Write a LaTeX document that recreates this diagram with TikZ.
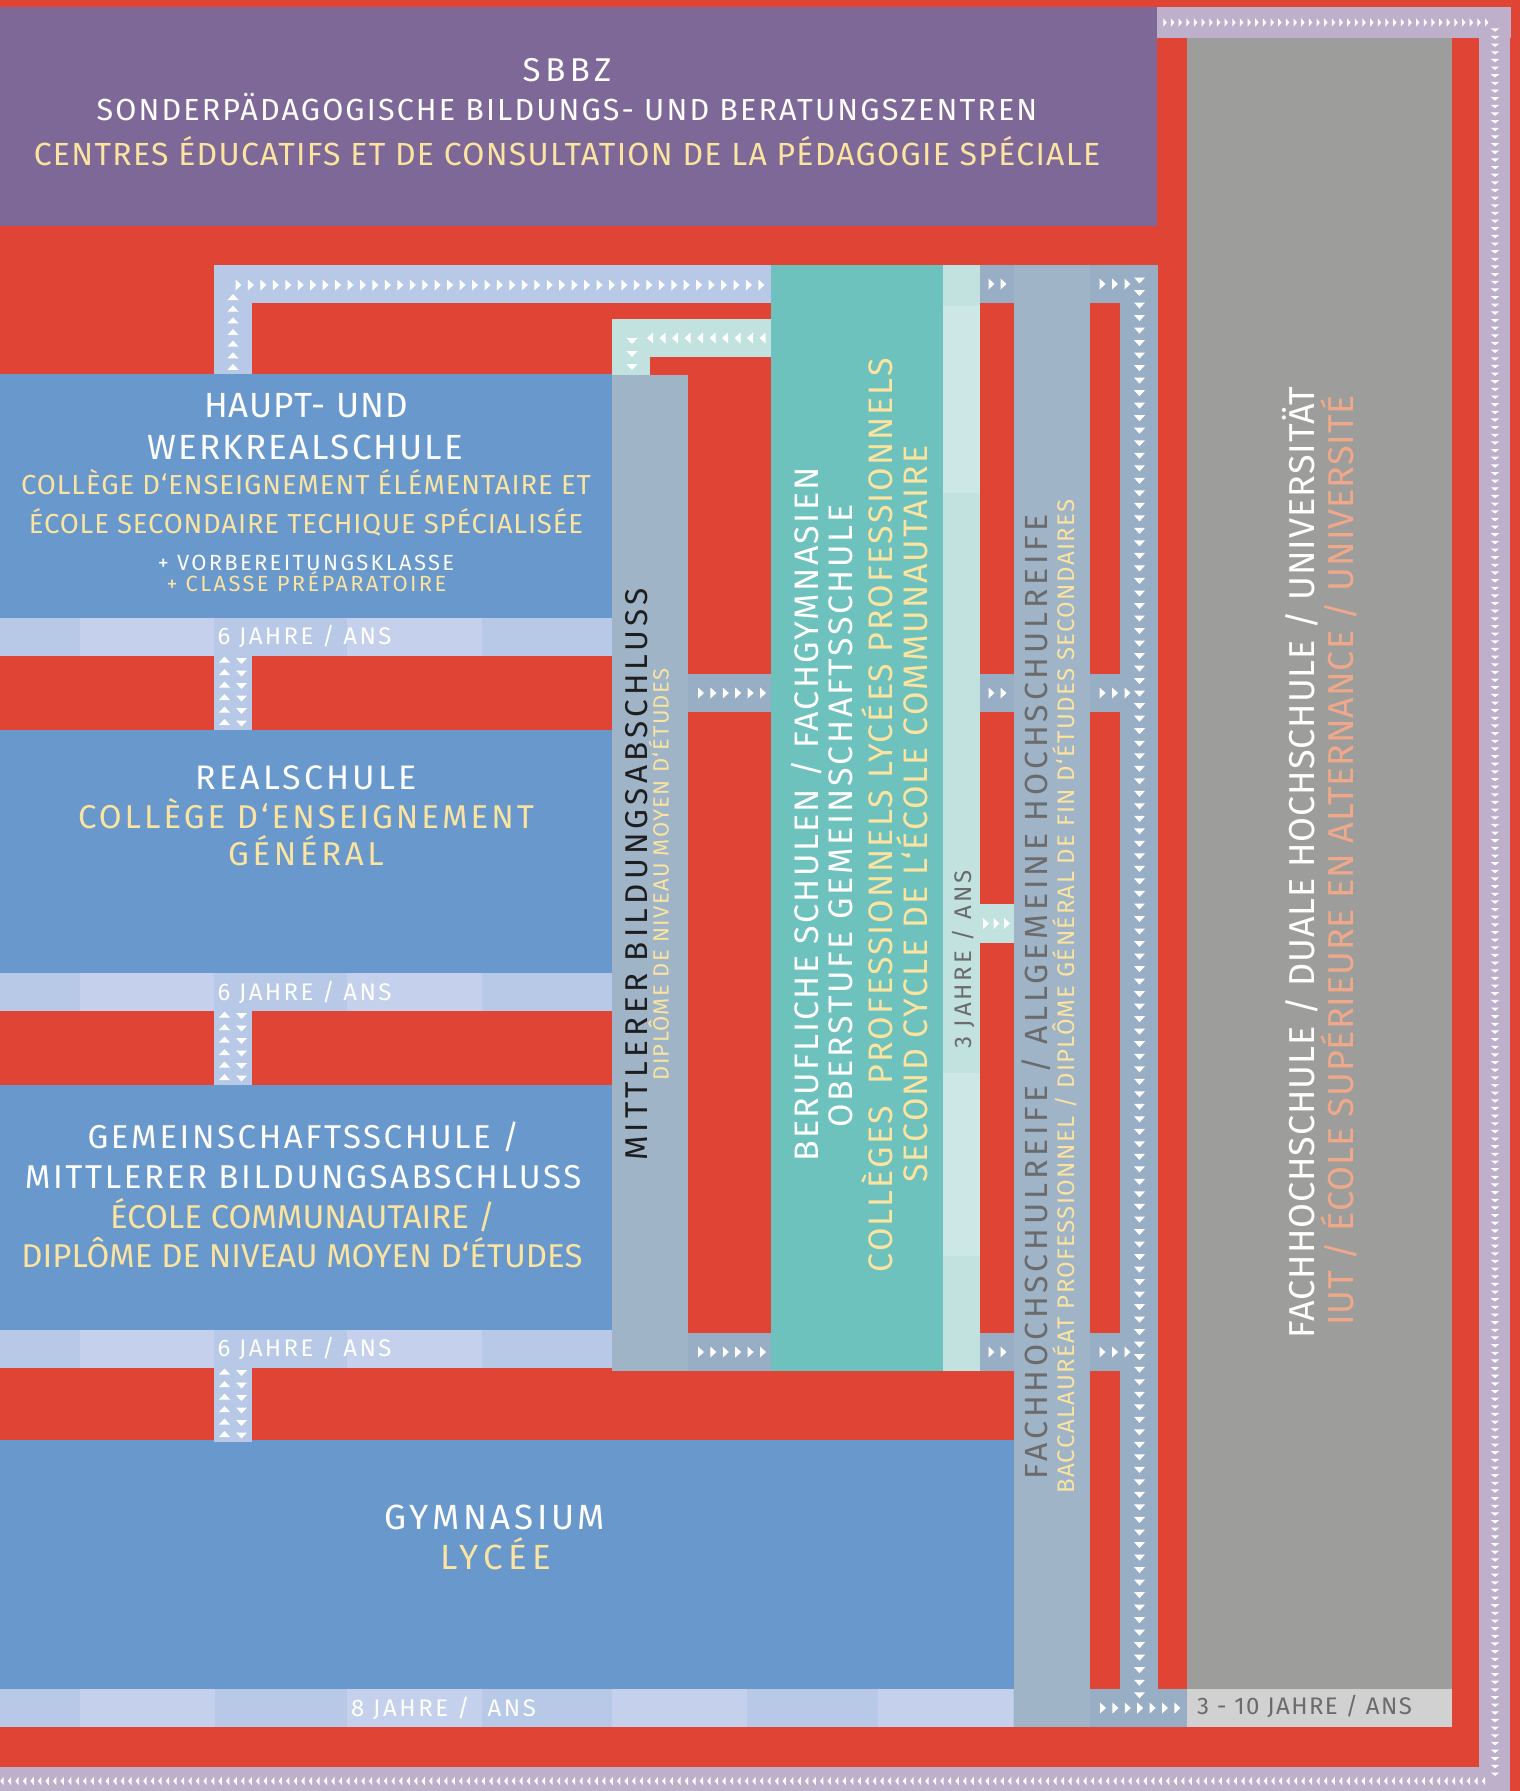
\documentclass[tikz,border=0pt]{standalone}
\usepackage{fontspec}
\setmainfont{Fira Sans}
\definecolor{bgred}{HTML}{E04434}
\definecolor{sbbzpurple}{HTML}{7E6898}
\definecolor{lilac}{HTML}{BEB0CB}
\definecolor{schoolblue}{HTML}{6898CC}
\definecolor{pathblue}{HTML}{B8C9E8}
\definecolor{paleblue}{HTML}{C5D1EC}
\definecolor{colgray}{HTML}{A0B4C8}
\definecolor{linkgray}{HTML}{98AEC5}
\definecolor{berufteal}{HTML}{6EC2BE}
\definecolor{paleteal}{HTML}{C2E2DF}
\definecolor{paletealb}{HTML}{CCE7E6}
\definecolor{unigray}{HTML}{9D9D9B}
\definecolor{yearsgray}{HTML}{D1D1D1}
\definecolor{frtext}{HTML}{FBE3A0}
\definecolor{salmontext}{HTML}{F0A88A}
\definecolor{graytext}{HTML}{6B6B6B}
\definecolor{darktext}{HTML}{1E1E1E}
\newcommand{\fs}[2]{\fontsize{#1}{#1}\selectfont\addfontfeatures{LetterSpace=#2}}
\newcommand{\arR}[2]{\fill[white] (#1-3,#2-5.5) -- (#1+3,#2) -- (#1-3,#2+5.5) -- cycle;}
\newcommand{\arL}[2]{\fill[white] (#1+3,#2-5.5) -- (#1-3,#2) -- (#1+3,#2+5.5) -- cycle;}
\newcommand{\arU}[2]{\fill[white] (#1-5.5,#2+3) -- (#1,#2-3) -- (#1+5.5,#2+3) -- cycle;}
\newcommand{\arD}[2]{\fill[white] (#1-5.5,#2-3) -- (#1,#2+3) -- (#1+5.5,#2-3) -- cycle;}
\newcommand{\sarR}[2]{\fill[white] (#1-1.7,#2-4.2) -- (#1+1.7,#2) -- (#1-1.7,#2+4.2) -- cycle;}
\newcommand{\sarL}[2]{\fill[white] (#1+1.7,#2-4.2) -- (#1-1.7,#2) -- (#1+1.7,#2+4.2) -- cycle;}
\newcommand{\sarD}[2]{\fill[white] (#1-4.2,#2-1.7) -- (#1,#2+1.7) -- (#1+4.2,#2-1.7) -- cycle;}
\begin{document}
\begin{tikzpicture}[x=1pt,y=-1pt,
  de/.style={text=white,anchor=base,inner sep=0pt},
  fr/.style={text=frtext,anchor=base,inner sep=0pt},
  gr/.style={text=graytext,anchor=base,inner sep=0pt},
  up/.style={rotate=90}]
\fill[bgred] (0,0) rectangle (1520,1791);
\useasboundingbox (0,0) rectangle (1520,1791);
\fill[sbbzpurple] (0,6.5) rectangle (1157,225.5);
\fill[lilac] (1157,6.5) rectangle (1511,37.5);
\fill[lilac] (1479,6.5) rectangle (1510,1791);
\fill[lilac] (0,1767) rectangle (1510,1791);
\fill[unigray] (1187,37.5) rectangle (1452,1689);
\fill[yearsgray] (1187,1689) rectangle (1452,1727);
\fill[pathblue] (214,265) rectangle (771,303);
\fill[pathblue] (214,265) rectangle (252,374);
\fill[paleteal] (612,319) rectangle (771,357);
\fill[paleteal] (612,319) rectangle (649.5,375);
\fill[schoolblue] (0,374) rectangle (612,618);
\fill[schoolblue] (0,730) rectangle (612,973);
\fill[schoolblue] (0,1085) rectangle (612,1330);
\fill[schoolblue] (0,1440) rectangle (1014,1689);
\foreach \y in {618,973,1330} {
  \fill[pathblue] (0,\y) rectangle (612,\y+38);
  \fill[paleblue] (80,\y) rectangle (214,\y+38);
  \fill[paleblue] (347,\y) rectangle (482,\y+38);
  \fill[pathblue] (214,\y+38) rectangle (252,\y+112);
}
\fill[pathblue] (0,1689) rectangle (1014,1727);
\foreach \x in {80,347,612,878} \fill[paleblue] (\x,1689) rectangle (\x+134.5,1727);
\fill[colgray] (612,375) rectangle (688,1371);
\fill[linkgray] (688,674) rectangle (771,712);
\fill[linkgray] (688,1333) rectangle (771,1371);
\fill[berufteal] (771,265) rectangle (942.5,1371);
\fill[paleteal] (942.5,265) rectangle (980,1371);
\fill[paletealb] (942.5,306) rectangle (980,493);
\fill[paletealb] (942.5,1073) rectangle (980,1256);
\fill[linkgray] (980,265) rectangle (1014,303);
\fill[linkgray] (980,674) rectangle (1014,712);
\fill[paleteal] (980,904) rectangle (1014,943);
\fill[linkgray] (980,1333) rectangle (1014,1371);
\fill[colgray] (1014,265) rectangle (1089.5,1727);
\fill[linkgray] (1089.5,265) rectangle (1120,303);
\fill[linkgray] (1089.5,674) rectangle (1120,712);
\fill[linkgray] (1089.5,1333) rectangle (1120,1371);
\fill[linkgray] (1120,265) rectangle (1158,1727);
\fill[linkgray] (1089.5,1689) rectangle (1187,1727);
\foreach \i in {0,...,42} {\arR{238.5+12.45*\i}{285}}
\foreach \i in {0,...,6} {\arU{233}{297+11.65*\i}}
\foreach \i in {0,...,9} {\arL{650+12.5*\i}{338}}
\foreach \i in {0,1,2} {\arD{632}{341+13*\i}}
\foreach \y in {656,1011,1368} \foreach \i in {0,...,5} {\arU{224.5}{\y+3.5+12.5*\i} \arD{241.5}{\y+5+12.5*\i}}
\foreach \y in {693,1352} \foreach \i in {0,...,5} {\arR{701+12.4*\i}{\y}}
\foreach \y in {284,693,1352} {\arR{991.5}{\y} \arR{1003.5}{\y}}
\foreach \x in {986,996.5,1007} {\arR{\x}{923.5}}
\foreach \y in {284,693,1352} {\arR{1102.5}{\y} \arR{1115}{\y} \arR{1127.5}{\y}}
\foreach \i in {0,...,113} {\arD{1139.5}{280.5+12.52*\i}}
\foreach \i in {0,...,6} {\arR{1103+12.4*\i}{1708}}
\foreach \i in {0,...,42} {\sarR{1165+7.66*\i}{22.5}}
\foreach \i in {0,...,228} {\sarD{1495}{30+7.65*\i}}
\foreach \i in {0,...,197} {\sarL{2+7.52*\i}{1781}}
\node[de,font={\fs{33}{14}}] (sbbz) at (567,81.5) {SBBZ};
\node[de,font={\fs{30.5}{7}}] (sbbzde) at (567,120) {SONDERPÄDAGOGISCHE BILDUNGS- UND BERATUNGSZENTREN};
\node[fr,font={\fs{32}{4}}] (sbbzfr) at (567,165.5) {CENTRES ÉDUCATIFS ET DE CONSULTATION DE LA PÉDAGOGIE SPÉCIALE};
\node[de,font={\fs{35}{3}}] (hauptde) at (306,417.7) {HAUPT- UND};
\node[de,font={\fs{35}{6}}] (werkde) at (305.5,459) {WERKREALSCHULE};
\node[fr,font={\fs{27.5}{3.3}}] (hauptfr) at (306,494.5) {COLLÈGE D‘ENSEIGNEMENT ÉLÉMENTAIRE ET};
\node[fr,font={\fs{27.5}{3}}] (werkfr) at (306,533) {ÉCOLE SECONDAIRE TECHIQUE SPÉCIALISÉE};
\node[de,font={\fs{22}{10.3}}] (vorbde) at (306,570.5) {+ VORBEREITUNGSKLASSE};
\node[fr,font={\fs{22}{10.5}}] (vorbfr) at (306.5,591.5) {+ CLASSE PRÉPARATOIRE};
\node[de,font={\fs{24}{10}}] (hauptjahre) at (304.5,644) {6 JAHRE / ANS};
\node[de,font={\fs{34}{9}}] (realde) at (306,789.5) {REALSCHULE};
\node[fr,font={\fs{33}{9}}] (realfr) at (306,828) {COLLÈGE D‘ENSEIGNEMENT};
\node[fr,font={\fs{33}{11}}] (realfrb) at (306,865.5) {GÉNÉRAL};
\node[de,font={\fs{24}{10}}] (realjahre) at (304.5,1000) {6 JAHRE / ANS};
\node[de,font={\fs{33}{7.8}}] (gemde) at (303.5,1148.5) {GEMEINSCHAFTSSCHULE /};
\node[de,font={\fs{33}{8}}] (gemdeb) at (303,1188.5) {MITTLERER BILDUNGSABSCHLUSS};
\node[fr,font={\fs{33}{0}}] (gemfr) at (302.5,1228.5) {ÉCOLE COMMUNAUTAIRE /};
\node[fr,font={\fs{33}{0}}] (gemfrb) at (302,1267.5) {DIPLÔME DE NIVEAU MOYEN D‘ÉTUDES};
\node[de,font={\fs{24}{10}}] (gemjahre) at (304.5,1356) {6 JAHRE / ANS};
\node[de,font={\fs{35}{10.5}}] (gymde) at (495,1529) {GYMNASIUM};
\node[fr,font={\fs{35}{15}}] (gymfr) at (495.5,1569) {LYCÉE};
\node[de,font={\fs{24}{10.7}}] (gymjahre) at (443.5,1716) {8 JAHRE /\ \ ANS};
\node[gr,font={\fs{24}{6}}] (unijahre) at (1304.5,1714.5) {3 - 10 JAHRE / ANS};
\node[anchor=base,inner sep=0pt,text=darktext,up,font={\fs{31.5}{13.3}}] (mbade) at (647,874.5) {MITTLERER BILDUNGSABSCHLUSS};
\node[fr,up,font={\fs{22}{6.4}}] (mbafr) at (668.5,874.5) {DIPLÔME DE NIVEAU MOYEN D‘ÉTUDES};
\node[de,up,font={\fs{34}{6.7}}] (berde) at (818,814.5) {BERUFLICHE SCHULEN / FACHGYMNASIEN};
\node[de,up,font={\fs{34}{7.7}}] (berdeb) at (852,816) {OBERSTUFE GEMEINSCHAFTSSCHULE};
\node[fr,up,font={\fs{34}{6}}] (berfr) at (892,815) {COLLÈGES\ \ PROFESSIONNELS LYCÉES PROFESSIONNELS};
\node[fr,up,font={\fs{34}{6}}] (berfrb) at (927,814) {SECOND CYCLE DE L‘ÉCOLE COMMUNAUTAIRE};
\node[gr,up,font={\fs{24}{12.3}}] (berjahre) at (971,959.5) {3 JAHRE / ANS};
\node[gr,up,font={\fs{32}{12}}] (fhrde) at (1047,997) {FACHHOCHSCHULREIFE / ALLGEMEINE HOCHSCHULREIFE};
\node[fr,up,font={\fs{24}{5.65}}] (fhrfr) at (1074.5,996.5) {BACCALAURÉAT PROFESSIONNEL / DIPLÔME GÉNÉRAL DE FIN D‘ÉTUDES SECONDAIRES};
\node[de,up,font={\fs{36}{2.6}}] (unide) at (1314.5,862.5) {FACHHOCHSCHULE / DUALE HOCHSCHULE / UNIVERSITÄT};
\node[text=salmontext,anchor=base,inner sep=0pt,up,font={\fs{36}{2.5}}] (unifr) at (1353.5,860.5) {IUT / ÉCOLE SUPÉRIEURE EN ALTERNANCE / UNIVERSITÉ};
\end{tikzpicture}
\end{document}
